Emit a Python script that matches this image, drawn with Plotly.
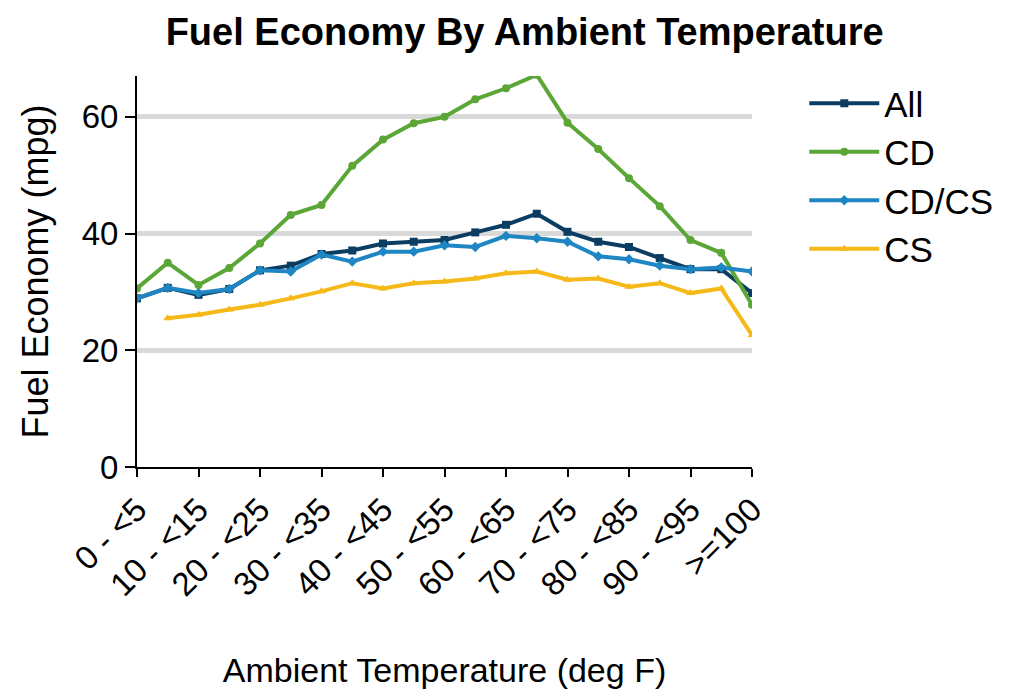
import plotly.graph_objects as go

categories = ["0 - <5", "5 - <10", "10 - <15", "15 - <20", "20 - <25", "25 - <30",
              "30 - <35", "35 - <40", "40 - <45", "45 - <50", "50 - <55", "55 - <60",
              "60 - <65", "65 - <70", "70 - <75", "75 - <80", "80 - <85", "85 - <90",
              "90 - <95", "95 - <100", ">=100"]

all_vals = [28.9, 30.7, 29.5, 30.5, 33.7, 34.5, 36.5, 37.1, 38.3, 38.6, 38.9,
            40.2, 41.5, 43.4, 40.3, 38.6, 37.7, 35.8, 33.9, 33.9, 29.8]
cd_vals = [30.6, 35.0, 31.2, 34.1, 38.3, 43.2, 44.9, 51.6, 56.1, 58.9, 60.0,
           63.0, 64.9, 67.2, 59.0, 54.5, 49.5, 44.7, 38.9, 36.7, 27.8]
cdcs_vals = [28.9, 30.7, 29.8, 30.5, 33.7, 33.5, 36.4, 35.2, 36.9, 36.9, 38.0,
             37.7, 39.6, 39.2, 38.6, 36.1, 35.6, 34.5, 33.9, 34.2, 33.5]
cs_vals = [None, 25.5, 26.1, 27.0, 27.8, 28.9, 30.1, 31.5, 30.6, 31.5, 31.8,
           32.3, 33.2, 33.5, 32.1, 32.3, 30.9, 31.5, 29.8, 30.6, 22.6]

tick_labels = categories[::2]
y_ticks = [0, 20, 40, 60]

series = [
    ("All", all_vals, "#0b3d62", "square", 8),
    ("CD", cd_vals, "#5aa636", "circle", 8),
    ("CD/CS", cdcs_vals, "#1f86c4", "diamond", 8),
    ("CS", cs_vals, "#f6b91a", "triangle-up", 8),
]

fig = go.Figure()
for i, (name, vals, color, sym, size) in enumerate(series):
    fig.add_trace(go.Scatter(
        x=categories, y=vals, name=name, mode="lines+markers",
        line=dict(color=color, width=4),
        marker=dict(symbol=sym, size=size, color=color),
        legendgroup=f"g{i}",
    ))

font_family = "Liberation Sans, Arial, sans-serif"
fig.update_layout(
    width=1011, height=695,
    paper_bgcolor="white", plot_bgcolor="white",
    margin=dict(l=129, r=267, t=68, b=236),
    font=dict(family=font_family, size=32, color="black"),
    title=dict(text="<b>Fuel Economy By Ambient Temperature</b>",
               x=0.511, xanchor="center", y=0.966, yanchor="middle",
               font=dict(size=38, color="black")),
    legend=dict(x=1.085, xanchor="left", y=1.005, yanchor="top",
                font=dict(size=35), tracegroupgap=0,
                itemwidth=70, bgcolor="rgba(0,0,0,0)"),
    showlegend=True,
)
fig.update_xaxes(
    type="category", range=[0, 20], automargin=False,
    tickmode="array", tickvals=tick_labels, ticktext=tick_labels,
    tickangle=-45, ticks="outside", ticklen=8, tickwidth=2, tickcolor="black",
    showline=True, linecolor="black", linewidth=2, showgrid=False,
    tickfont=dict(size=33),
    title=dict(text="Ambient Temperature (deg F)", font=dict(size=34), standoff=56),
)
fig.update_yaxes(
    range=[0, 67], tickvals=y_ticks, ticks="outside", ticklen=10, tickwidth=2,
    tickcolor="black", showline=True, linecolor="black", linewidth=2,
    showgrid=True, gridcolor="#d9d9d9", gridwidth=5, zeroline=False,
    automargin=False, tickfont=dict(size=33),
    title=dict(text="Fuel Economy (mpg)", font=dict(size=36), standoff=22),
)

fig.write_html("out.html")
